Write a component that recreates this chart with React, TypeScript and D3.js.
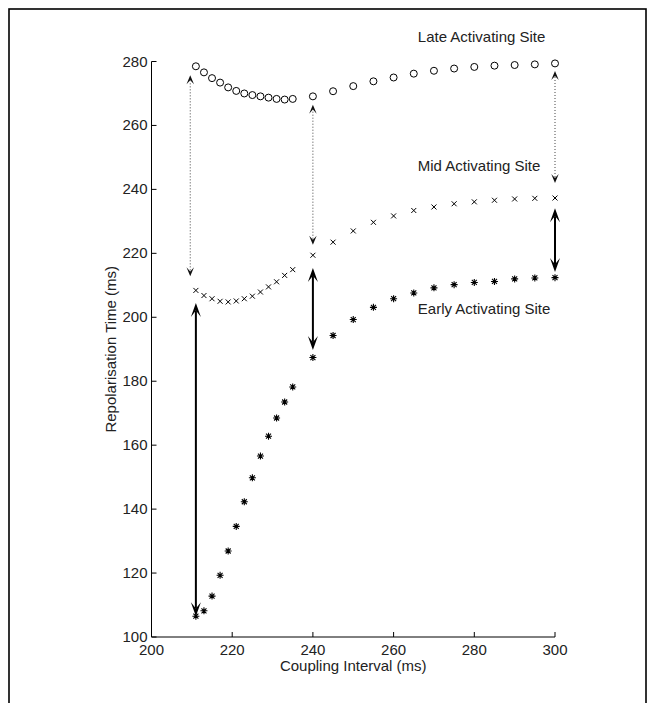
import React from "react";
import * as d3 from "d3";

const interval = [211, 213, 215, 217, 219, 221, 223, 225, 227, 229, 231, 233, 235, 240, 245, 250, 255, 260, 265, 270, 275, 280, 285, 290, 295, 300];
const lateSite = [278.5, 276.6, 274.8, 273.4, 271.9, 270.8, 270.0, 269.5, 269.1, 268.7, 268.3, 268.1, 268.3, 269.1, 270.7, 272.3, 273.8, 275.0, 276.2, 277.1, 277.8, 278.3, 278.7, 278.9, 279.1, 279.4];
const midSite = [208.4, 206.8, 205.8, 205.0, 204.8, 205.1, 205.8, 206.6, 207.9, 209.5, 211.1, 213.1, 214.9, 219.4, 223.5, 227.0, 229.7, 231.7, 233.4, 234.5, 235.5, 236.1, 236.6, 237.0, 237.2, 237.3];
const earlySite = [106.5, 108.2, 112.8, 119.3, 126.9, 134.6, 142.3, 149.8, 156.6, 162.8, 168.5, 173.5, 178.2, 187.4, 194.3, 199.3, 203.1, 205.8, 207.6, 209.2, 210.2, 210.9, 211.2, 212.0, 212.3, 212.4];

const xTicks = [200, 220, 240, 260, 280, 300];
const yTicks = [100, 120, 140, 160, 180, 200, 220, 240, 260, 280];

// [x, from, to]
const solidArrows = [
  [211, 106.5, 204.5],
  [240, 215.4, 189.8],
  [300, 234.1, 214.2],
];
const dottedArrows = [
  [209.6, 212.8, 275.7],
  [240, 222.7, 266.5],
  [300, 242.0, 277.0],
];

const siteLabels = [
  { text: "Late Activating Site", x: 266, y: 287.6 },
  { text: "Mid Activating Site", x: 266, y: 247.2 },
  { text: "Early Activating Site", x: 266, y: 202.6 },
];

const FONT = "'Liberation Sans', Arial, Helvetica, sans-serif";

function head(x: number, y: number, dir: number, L: number, W: number) {
  const b = y - dir * L;
  const n = y - dir * L * 0.55;
  return `M${x},${y}L${x - W / 2},${b}L${x},${n}L${x + W / 2},${b}Z`;
}

export default function App() {
  const x = d3.scaleLinear().domain([200, 300]).range([151.5, 555]);
  const y = d3.scaleLinear().domain([100, 280]).range([637, 61.5]);
  const pts = interval.map((v, i) => ({ x: x(v), late: y(lateSite[i]), mid: y(midSite[i]), early: y(earlySite[i]) }));

  return (
    <svg width={655} height={703} style={{ position: "absolute", left: 0, top: 0, background: "#fff" }} fontFamily={FONT}>
      <rect x={0} y={0} width={655} height={703} fill="#fff" />
      <rect x={9} y={9} width={637} height={720} fill="none" stroke="#000" strokeWidth={1.6} />

      <line x1={x(200)} x2={x(300)} y1={y(100)} y2={y(100)} stroke="#000" strokeWidth={1} />
      <line x1={x(200)} x2={x(200)} y1={y(100)} y2={y(280)} stroke="#000" strokeWidth={1} />
      {xTicks.map((t) => (
        <g key={"xt" + t}>
          <line x1={x(t)} x2={x(t)} y1={y(100)} y2={y(100) - 5} stroke="#000" />
          <text x={x(t)} y={y(100) + 18} textAnchor="middle" fontSize={15} fill="#222">{t}</text>
        </g>
      ))}
      {yTicks.map((t) => (
        <g key={"yt" + t}>
          <line x1={x(200)} x2={x(200) + 5} y1={y(t)} y2={y(t)} stroke="#000" />
          <text x={x(200) - 4} y={y(t) + 5} textAnchor="end" fontSize={15} fill="#222">{t}</text>
        </g>
      ))}
      <text x={(x(200) + x(300)) / 2} y={671} textAnchor="middle" fontSize={15} fill="#222">Coupling Interval (ms)</text>
      <text transform={`translate(116,${(y(100) + y(280)) / 2}) rotate(-90)`} textAnchor="middle" fontSize={15} fill="#222">Repolarisation Time (ms)</text>

      {dottedArrows.map(([ax, a, b], i) => {
        const y1 = y(a), y2 = y(b);
        return (
          <g key={"da" + i}>
            <line x1={x(ax)} x2={x(ax)} y1={y1 - 6} y2={y2 + 6} stroke="#444" strokeWidth={1} strokeDasharray="1,2" />
            <path d={head(x(ax), y1, 1, 9, 7.5)} fill="#111" />
            <path d={head(x(ax), y2, -1, 9, 7.5)} fill="#111" />
          </g>
        );
      })}

      {solidArrows.map(([ax, a, b], i) => {
        const ya = y(a), yb = y(b);
        const top = Math.min(ya, yb), bot = Math.max(ya, yb);
        return (
          <g key={"sa" + i}>
            <line x1={x(ax)} x2={x(ax)} y1={top + 8} y2={bot - 8} stroke="#000" strokeWidth={2} />
            <path d={head(x(ax), top, -1, 14, 10)} fill="#000" />
            <path d={head(x(ax), bot, 1, 14, 10)} fill="#000" />
          </g>
        );
      })}

      {pts.map((p, i) => (
        <circle key={"c" + i} cx={p.x} cy={p.late} r={3.5} fill="none" stroke="#000" strokeWidth={1} />
      ))}
      {pts.map((p, i) => (
        <path key={"m" + i} d={`M${p.x - 2.5},${p.mid - 2.5}L${p.x + 2.5},${p.mid + 2.5}M${p.x - 2.5},${p.mid + 2.5}L${p.x + 2.5},${p.mid - 2.5}`} stroke="#000" strokeWidth={1} />
      ))}
      {pts.map((p, i) => {
        const r = 3.5, d = 2.5;
        return (
          <path key={"e" + i} d={`M${p.x},${p.early - r}L${p.x},${p.early + r}M${p.x - r},${p.early}L${p.x + r},${p.early}M${p.x - d},${p.early - d}L${p.x + d},${p.early + d}M${p.x - d},${p.early + d}L${p.x + d},${p.early - d}`} stroke="#000" strokeWidth={1.1} />
        );
      })}

      {siteLabels.map((l) => (
        <text key={l.text} x={x(l.x)} y={y(l.y) + 5} fontSize={15} fill="#222">{l.text}</text>
      ))}
    </svg>
  );
}
